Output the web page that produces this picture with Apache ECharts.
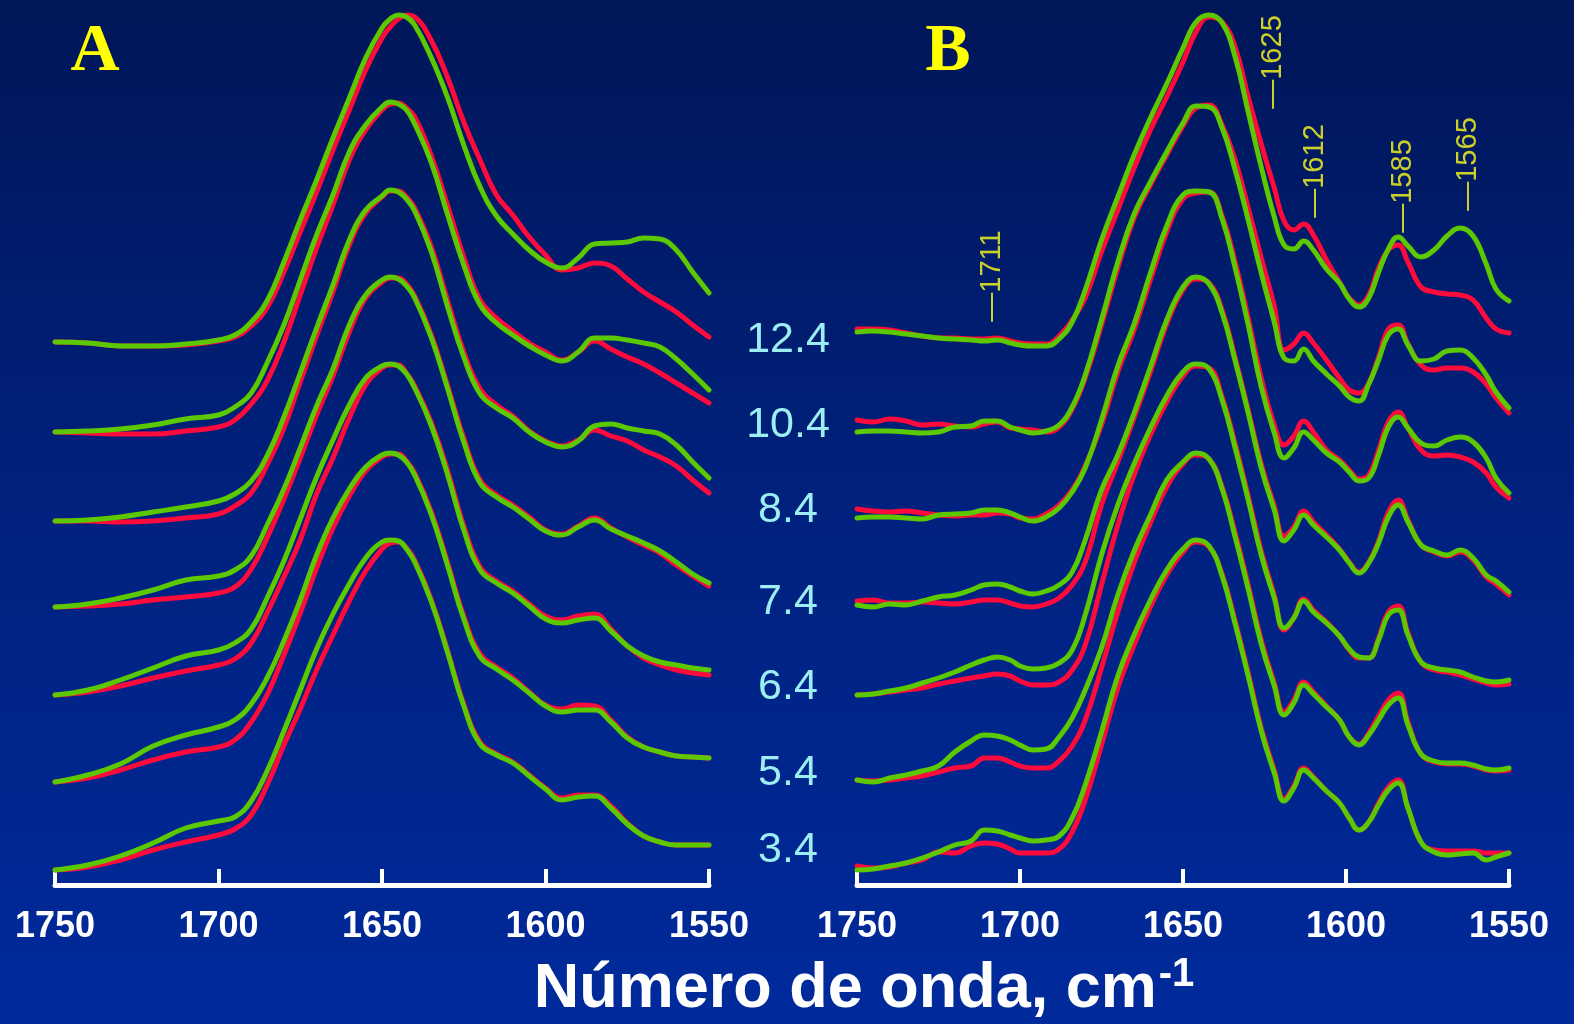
<!DOCTYPE html>
<html><head><meta charset="utf-8">
<script src="https://cdn.jsdelivr.net/npm/echarts@6/dist/echarts.min.js"></script>
<style>html,body{margin:0;padding:0;background:#00206f;}#c{width:1574px;height:1024px;}</style>
</head><body><div id="c"></div>
<script>
// ---------- DATA (offset display units, axis inverted) ----------
const phLabels = ['12.4','10.4','8.4','7.4','6.4','5.4','3.4'];
const xTicks = [1750,1700,1650,1600,1550];

// Panel A wavenumbers
const wnA = [1750,1740,1730,1720,1710,1700,1695,1690,1685,1680,1675,1670,1665,1660,1655,1650,1647.5,1645,1642.5,1640,1635,1630,1625,1620,1615,1610,1605,1600,1595,1590,1585,1580,1575,1570,1565,1560,1555,1550];
const a124G = [342,343,346,346,344,340,335,322,300,262,220,180,138,98,58,28,19,15,17,25,57,97,145,187,216,234,250,262,268,258,244,243,242,238,239,250,272,293];
const a124R = [342,343,346,346,345,341,337,326,307,272,232,192,150,110,70,38,27,19,15,17,40,77,122,160,195,215,237,255,270,268,263,266,279,292,302,312,325,337];
const a104G = [432,431,429,425,419,415,407,393,362,325,280,235,195,152,125,107,102,104,110,124,162,214,265,305,323,335,346,355,361,352,338,338,340,343,347,359,374,390];
const a104R = [432,433,434,434,431,427,420,404,380,342,295,248,205,160,130,110,104,103,108,117,155,205,257,300,318,331,343,352,360,352,341,349,357,364,373,383,393,403];
const a84G  = [521,520,517,512,507,501,494,481,455,417,373,328,285,240,210,196,190,192,199,211,251,306,357,394,408,418,432,442,447,441,426,424,428,431,434,445,462,478];
const a84R  = [521,521,522,521,518,514,506,493,464,428,382,336,292,245,213,197,191,191,197,208,246,300,352,389,405,416,431,441,446,440,430,436,441,450,457,466,480,493];
const a74G  = [607,604,598,590,580,576,570,556,524,489,448,406,369,325,295,280,277,279,286,298,337,388,442,483,497,507,519,531,535,527,520,529,536,543,551,562,574,583];
const a74R  = [607,606,604,600,597,593,587,569,537,499,458,415,376,332,298,282,278,278,284,296,334,385,438,480,495,505,517,530,534,526,518,528,537,545,553,565,576,586];
const a64G  = [695,690,680,668,656,650,643,629,597,561,519,477,440,405,378,366,364,366,374,388,425,474,530,570,583,593,606,619,623,620,618,631,646,656,662,665,668,670];
const a64R  = [695,692,686,678,671,665,659,643,612,577,540,494,458,418,385,368,365,365,373,386,422,470,526,567,581,591,604,616,620,616,614,629,646,658,665,670,673,675];
const a54G  = [782,775,764,746,735,727,720,704,677,641,600,555,518,489,467,455,453,455,462,475,514,565,619,657,669,680,693,706,712,710,710,722,738,747,752,756,757,758];
const a54R  = [782,778,770,760,752,747,740,722,694,655,613,568,528,496,471,457,454,454,461,473,511,562,616,654,667,678,692,705,709,705,706,720,737,747,752,756,757,758];
const a34G  = [870,865,856,843,828,821,817,801,770,731,690,649,614,584,558,542,540,541,549,562,601,652,706,744,755,763,776,789,800,797,796,808,824,836,842,845,845,845];
const a34R  = [870,867,860,850,842,835,829,815,784,745,709,670,635,601,571,549,543,542,548,560,599,650,704,742,754,762,775,788,798,795,795,806,823,836,842,845,845,845];

// Panel B wavenumbers
const wnB = [1750,1745,1740,1735,1730,1725,1720,1715,1711,1707,1703,1700,1696,1692,1688,1684,1680,1675,1670,1665,1660,1655,1650,1646,1642,1638,1634,1630,1626,1622,1619,1616,1613,1610,1606,1602,1599,1596,1593,1590,1587,1584,1581,1577,1573,1569,1565,1561,1557,1554,1550];
const b124G = [332,331,332,334,336,338,339,340,341,340,343,345,346,346,339,322,290,240,197,155,118,84,48,22,15,23,57,112,167,217,245,249,241,250,269,283,299,307,298,272,249,237,246,257,250,236,228,236,264,289,301];
const b124R = [329,329,330,333,336,338,338,339,339,338,341,343,344,344,336,320,298,252,210,168,130,97,62,32,17,22,47,97,144,188,221,230,224,235,260,282,298,305,295,268,250,245,262,287,292,294,295,300,318,329,333];
const b104G = [432,431,431,432,433,432,427,426,421,421,427,430,433,431,425,407,375,320,262,214,182,152,123,106,107,128,170,220,273,322,358,361,349,361,374,386,397,401,384,360,335,329,345,361,359,351,350,358,375,392,408];
const b104R = [420,422,419,421,425,424,426,427,424,422,428,429,430,432,427,409,378,325,268,218,185,155,126,108,105,125,160,208,258,306,350,344,333,343,360,378,390,393,383,357,329,325,344,365,370,368,368,372,384,398,413];
const b84G  = [518,517,517,518,519,515,514,513,510,510,513,517,521,517,508,492,468,420,366,324,273,226,195,191,192,219,268,325,387,433,458,448,432,440,453,462,472,481,478,455,427,417,428,443,446,440,437,442,458,478,493];
const b84R  = [509,511,512,511,513,515,516,515,515,513,514,518,519,514,505,490,466,425,372,330,280,232,199,193,192,216,262,318,378,425,445,436,421,432,450,460,470,479,475,450,422,412,428,450,456,455,457,462,473,487,498];
const b74G  = [605,607,604,605,601,597,595,590,585,584,587,591,594,591,585,572,540,490,455,413,367,320,287,277,284,313,361,413,468,510,541,530,515,525,537,550,563,573,563,543,517,505,522,545,551,555,550,558,575,581,592];
const b74R  = [601,600,603,603,602,603,604,602,600,600,603,606,607,604,598,585,562,505,462,418,372,324,290,279,283,310,358,410,464,506,536,527,511,522,535,549,562,572,562,541,512,500,520,545,552,556,552,560,577,584,595];
const b64G  = [695,694,691,688,683,678,672,665,660,657,660,666,669,668,663,650,615,555,505,464,428,396,372,364,369,400,448,500,555,598,628,618,601,612,623,636,649,657,658,640,615,610,635,662,668,670,672,677,681,682,680];
const b64R  = [695,694,692,690,688,684,681,678,676,674,676,681,685,685,682,670,645,585,525,475,435,402,376,366,368,397,444,496,551,595,630,618,599,610,622,636,650,658,658,638,612,606,633,662,670,672,675,679,683,685,684];
const b54G  = [780,782,778,775,771,766,752,741,735,736,740,745,750,749,737,718,690,648,595,551,515,480,462,453,459,489,537,589,644,686,715,703,685,694,707,720,737,745,735,720,705,698,725,754,761,763,763,765,769,770,768];
const b54R  = [780,781,780,778,776,772,768,766,758,758,762,766,768,768,761,746,720,668,612,563,523,487,464,455,459,487,533,585,640,683,712,700,682,692,706,720,737,744,733,716,700,693,722,754,762,764,764,766,770,771,770];
const b34G  = [870,869,866,863,858,852,845,841,830,831,835,838,841,840,836,818,785,732,676,635,600,570,549,540,546,576,624,676,731,773,801,788,770,778,791,803,818,830,822,805,790,783,808,842,852,855,854,853,860,857,853];
const b34R  = [866,868,867,863,860,852,853,846,843,844,849,853,853,853,849,832,800,745,688,645,607,575,552,542,547,574,621,673,728,770,799,786,768,777,791,803,818,830,822,803,787,780,808,842,850,851,851,851,853,853,853];

// Band assignments marked in panel B
const bandWn = [1711, 1625, 1612, 1585, 1565];

// ---------- CHART ----------
const RED = '#ff0a3c', GREEN = '#5cc800';
const chart = echarts.init(document.getElementById('c'), null, {renderer: 'canvas', width: 1574, height: 1024});

function line(xs, ys, color, gi, z) {
  return {type: 'line', xAxisIndex: gi, yAxisIndex: gi, data: xs.map((x, i) => [x, ys[i]]),
    smooth: 0.45, symbol: 'none', showSymbol: false, silent: true, z: z, clip: false,
    lineStyle: {color: color, width: 5, cap: 'round', join: 'round'}};
}
const A = [[a124R,a124G],[a104R,a104G],[a84R,a84G],[a74R,a74G],[a64R,a64G],[a54R,a54G],[a34R,a34G]];
const B = [[b124R,b124G],[b104R,b104G],[b84R,b84G],[b74R,b74G],[b64R,b64G],[b54R,b54G],[b34R,b34G]];
const series = [];
A.forEach(p => series.push(line(wnA, p[0], RED, 0, 2)));
B.forEach(p => series.push(line(wnB, p[0], RED, 1, 2)));
A.forEach(p => series.push(line(wnA, p[1], GREEN, 0, 3)));
B.forEach(p => series.push(line(wnB, p[1], GREEN, 1, 3)));

// annotation label positions (vertical centre of each rotated label, in axis units)
const bandLabelY = [276, 62, 171, 186, 164];
series.push({type: 'scatter', xAxisIndex: 1, yAxisIndex: 1, symbolSize: 0, silent: true, z: 5,
  data: bandWn.map((w, i) => [w, bandLabelY[i]]),
  label: {show: true, position: 'inside', rotate: 90, offset: [0, 8], formatter: p => '\u2014' + p.value[0],
    color: '#ffff1a', fontSize: 29, fontFamily: 'Liberation Sans, Arial, sans-serif', align: 'center', verticalAlign: 'middle'}});

function xAxis(gi) {
  return {type: 'value', gridIndex: gi, position: 'bottom', min: 1550, max: 1750, interval: 50, inverse: true,
    axisLine: {show: true, onZero: false, lineStyle: {color: '#ffffff', width: 5}},
    axisTick: {show: true, inside: true, length: 16, lineStyle: {color: '#ffffff', width: 4}},
    splitLine: {show: false},
    axisLabel: {show: true, margin: 24, color: '#ffffff', fontSize: 36, fontWeight: 'bold',
      fontFamily: 'Liberation Sans, Arial, sans-serif', showMinLabel: true, showMaxLabel: true,
      formatter: v => xTicks.indexOf(v) >= 0 ? String(v) : ''}};
}
function yAxis(gi) {
  return {type: 'value', gridIndex: gi, min: 0, max: 885, inverse: true, show: false, splitLine: {show: false}};
}
const phY = [340, 425, 510, 602, 687, 773, 850];
const graphics = phLabels.map((t, i) => ({type: 'text', x: 788, y: phY[i], silent: true,
  style: {text: t, fill: '#9ceef2', fontSize: 43, fontFamily: 'Liberation Sans, Arial, sans-serif',
    align: 'center', verticalAlign: 'middle', textAlign: 'center', textVerticalAlign: 'middle'}}));
graphics.push({type: 'text', x: 95, y: 52, silent: true,
  style: {text: 'A', fill: '#ffff00', fontSize: 68, fontWeight: 'bold', fontFamily: 'Liberation Serif, Times New Roman, serif',
    align: 'center', verticalAlign: 'middle', textAlign: 'center', textVerticalAlign: 'middle'}});
graphics.push({type: 'text', x: 948, y: 52, silent: true,
  style: {text: 'B', fill: '#ffff00', fontSize: 68, fontWeight: 'bold', fontFamily: 'Liberation Serif, Times New Roman, serif',
    align: 'center', verticalAlign: 'middle', textAlign: 'center', textVerticalAlign: 'middle'}});
graphics.push({type: 'text', x: 864, y: 990, silent: true,
  style: {text: '{t|Número de onda, cm}{s|-1}', align: 'center', verticalAlign: 'middle', textAlign: 'center', textVerticalAlign: 'middle',
    rich: {t: {fill: '#ffffff', color: '#ffffff', fontSize: 63, fontWeight: 'bold', fontFamily: 'Liberation Sans, Arial, sans-serif', lineHeight: 70},
           s: {fill: '#ffffff', color: '#ffffff', fontSize: 40, fontWeight: 'bold', fontFamily: 'Liberation Sans, Arial, sans-serif', verticalAlign: 'top', lineHeight: 70, padding: [0, 0, 22, 2]}}}});

chart.setOption({
  animation: false,
  backgroundColor: {type: 'linear', x: 0, y: 0, x2: 0, y2: 1,
    colorStops: [{offset: 0, color: '#001658'}, {offset: 0.5, color: '#00217e'}, {offset: 1, color: '#002a9c'}]},
  grid: [{left: 55, width: 654, top: 0, height: 885}, {left: 857, width: 652, top: 0, height: 885}],
  xAxis: [xAxis(0), xAxis(1)],
  yAxis: [yAxis(0), yAxis(1)],
  series: series,
  graphic: graphics
});
</script></body></html>
